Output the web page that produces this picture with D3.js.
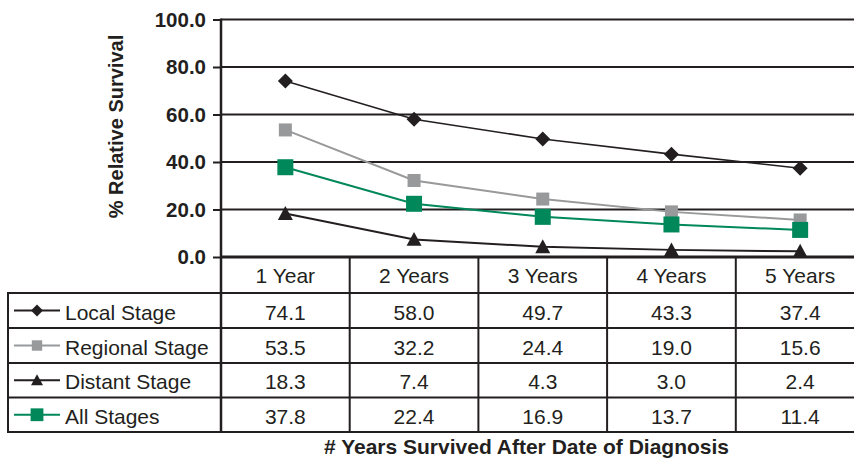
<!DOCTYPE html>
<html><head><meta charset="utf-8">
<script src="https://cdn.jsdelivr.net/npm/d3@7"></script>
<style>body{margin:0;background:#fff}svg{display:block}text{font-family:"Liberation Sans",Arial,Helvetica,sans-serif;fill:#231f20}</style>
</head><body><svg id="c" width="854" height="459"></svg>
<script>
const categories = ["1 Year","2 Years","3 Years","4 Years","5 Years"];
const seriesNames = ["Local Stage","Regional Stage","Distant Stage","All Stages"];
const localStage = [74.1,58.0,49.7,43.3,37.4];
const regionalStage = [53.5,32.2,24.4,19.0,15.6];
const distantStage = [18.3,7.4,4.3,3.0,2.4];
const allStages = [37.8,22.4,16.9,13.7,11.4];
const yTicks = [0,20,40,60,80,100];
const xTitle = "# Years Survived After Date of Diagnosis";
const yTitle = "% Relative Survival";

const INK = "#231f20";
const series = [
  {name: seriesNames[0], values: localStage, color: INK, marker: "diamond", size: 15, lw: 1.6},
  {name: seriesNames[1], values: regionalStage, color: "#98999b", marker: "square", size: 13, lw: 2},
  {name: seriesNames[2], values: distantStage, color: INK, marker: "triangle", size: 15, lw: 2},
  {name: seriesNames[3], values: allStages, color: "#00875a", marker: "square", size: 16, lw: 2}
];

const svg = d3.select("#c");
const left = 221, colW = 128.7, right = left + colW * categories.length;
const x = d3.scaleBand().domain(categories).range([left, right]);
const y = d3.scaleLinear().domain([0,100]).range([257, 19.5]);

// gridlines
svg.append("g").selectAll("line").data(yTicks.filter(d=>d>0)).join("line")
  .attr("x1", left).attr("x2", 854).attr("y1", d=>y(d)).attr("y2", d=>y(d))
  .attr("stroke", INK).attr("stroke-width", 2);

// y axis
const yAxis = d3.axisLeft(y).tickValues(yTicks).tickFormat(d3.format(".1f")).tickSize(8).tickPadding(7);
const ga = svg.append("g").attr("transform", `translate(${left},0)`).call(yAxis);
ga.select(".domain").remove();
ga.selectAll(".tick line").attr("stroke", INK).attr("stroke-width", 2);
ga.selectAll(".tick text").attr("font-size", 20.5).attr("font-weight", "bold").attr("fill", INK)
  .attr("font-family", '"Liberation Sans",Arial,sans-serif');

svg.append("text").attr("transform", "translate(123,126.5) rotate(-90)")
  .attr("text-anchor", "middle").attr("font-size", 20).attr("font-weight", "bold").text(yTitle);

// table
const rowTops = [257, 293, 328, 363, 397.5, 432];
const tg = svg.append("g");
tg.selectAll("line.h").data(rowTops.slice(1)).join("line").attr("class","h")
  .attr("x1", 7).attr("x2", 854).attr("y1", d=>d).attr("y2", d=>d)
  .attr("stroke", INK).attr("stroke-width", 2);
tg.append("line").attr("x1", 8).attr("x2", 8).attr("y1", 293).attr("y2", 433)
  .attr("stroke", INK).attr("stroke-width", 2);
tg.selectAll("line.v").data(categories.slice(1)).join("line").attr("class","v")
  .attr("x1", d=>x(d)).attr("x2", d=>x(d)).attr("y1", 257).attr("y2", 433)
  .attr("stroke", INK).attr("stroke-width", 2);
svg.append("line").attr("x1", left).attr("x2", left).attr("y1", 18.5).attr("y2", 433)
  .attr("stroke", INK).attr("stroke-width", 2.5);
svg.append("line").attr("x1", left).attr("x2", 854).attr("y1", 257).attr("y2", 257)
  .attr("stroke", INK).attr("stroke-width", 3);

tg.selectAll("text.hd").data(categories).join("text").attr("class","hd")
  .attr("x", d=>x(d)+x.bandwidth()/2).attr("y", 282.5).attr("text-anchor","middle")
  .attr("font-size", 21).text(d=>d);

function markerPath(type, s){
  if(type==="diamond"){const h=s/2;return `M0,${-h}L${h},0L0,${h}L${-h},0Z`;}
  if(type==="square"){const h=s/2;return `M${-h},${-h}H${h}V${h}H${-h}Z`;}
  if(type==="triangle"){const h=s/2;return `M0,${-h}L${h},${h*0.85}L${-h},${h*0.85}Z`;}
}

series.forEach((s,i)=>{
  const cy = (rowTops[i+1]+rowTops[i+2])/2;
  const g = svg.append("g");
  g.append("line").attr("x1", 14).attr("x2", 60).attr("y1", cy).attr("y2", cy)
    .attr("stroke", s.color).attr("stroke-width", 2);
  g.append("path").attr("d", markerPath(s.marker, s.size*0.8)).attr("transform", `translate(37,${cy})`)
    .attr("fill", s.color);
  g.append("text").attr("x", 65).attr("y", cy+9).attr("font-size", 21).text(s.name);
  g.selectAll("text.v").data(s.values).join("text").attr("class","v")
    .attr("x", (d,j)=>x(categories[j])+x.bandwidth()/2).attr("y", cy+9)
    .attr("text-anchor","middle").attr("font-size", 21).text(d=>d.toFixed(1));
});

const line = d3.line().x((d,j)=>x(categories[j])+x.bandwidth()/2).y(d=>y(d));
series.forEach(s=>{
  svg.append("path").attr("d", line(s.values)).attr("fill","none")
    .attr("stroke", s.color).attr("stroke-width", s.lw);
  svg.append("g").selectAll("path").data(s.values).join("path")
    .attr("d", markerPath(s.marker, s.size))
    .attr("transform", (d,j)=>`translate(${x(categories[j])+x.bandwidth()/2},${y(d)})`)
    .attr("fill", s.color);
});

svg.append("text").attr("x", 526.5).attr("y", 454).attr("text-anchor","middle")
  .attr("font-size", 21).attr("font-weight","bold").text(xTitle);
</script></body></html>
